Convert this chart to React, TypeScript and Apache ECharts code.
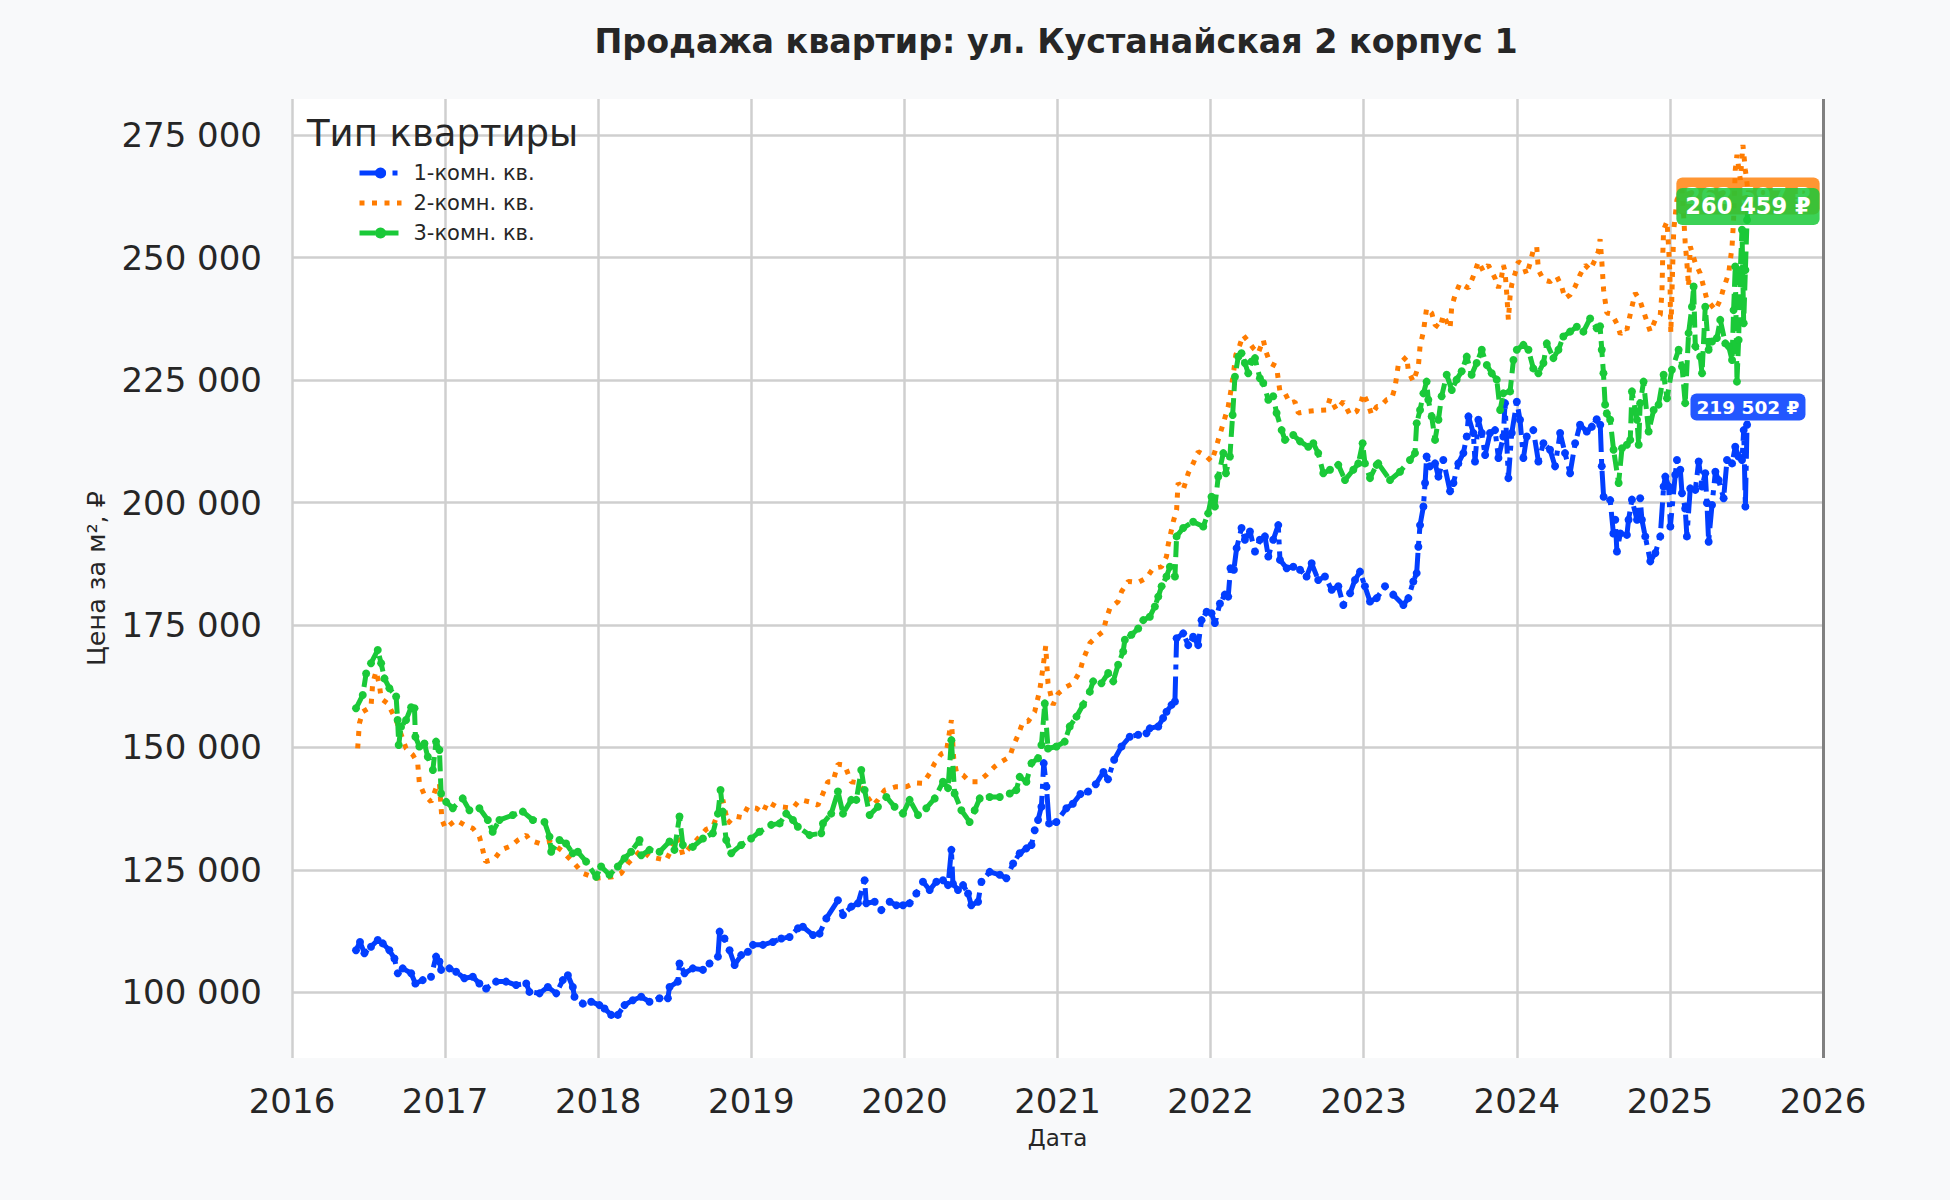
import React, { useEffect, useRef } from 'react';
import * as echarts from 'echarts';

const chartTitle = 'Продажа квартир: ул. Кустанайская 2 корпус 1';
const legendTitle = 'Тип квартиры';
const seriesNames = ['1-комн. кв.', '2-комн. кв.', '3-комн. кв.'];
const colors = ['#023eff', '#ff7c00', '#1ac938'];
const boxColors = ['rgba(2,62,255,0.87)', 'rgba(255,124,0,0.8)', 'rgba(26,201,56,0.85)'];
const priceTicks = [100000, 125000, 150000, 175000, 200000, 225000, 250000, 275000];

// [год, цена за м²]
const oneRoom: [number, number][] = [
  [2016.418, 108600], [2016.444, 110300], [2016.473, 108000], [2016.516, 109300], [2016.56, 110700],
  [2016.593, 110000], [2016.636, 108600], [2016.669, 106900], [2016.691, 103900], [2016.723, 104900],
  [2016.778, 103900], [2016.806, 101800], [2016.854, 102500], [2016.908, 103200], [2016.941, 107300],
  [2016.963, 106300], [2016.974, 104600], [2017.028, 104900], [2017.072, 104200], [2017.126, 102900],
  [2017.181, 103200], [2017.224, 101800], [2017.268, 100800], [2017.333, 102200], [2017.398, 102200],
  [2017.464, 101500], [2017.53, 101800], [2017.551, 100100], [2017.617, 99800], [2017.671, 101100],
  [2017.726, 99800], [2017.769, 102500], [2017.802, 103500], [2017.834, 101100], [2017.845, 99100],
  [2017.9, 97700], [2017.954, 98100], [2018.008, 97400], [2018.041, 96700], [2018.085, 95400],
  [2018.128, 95400], [2018.172, 97400], [2018.226, 98400], [2018.281, 99100], [2018.335, 98100],
  [2018.401, 98800], [2018.455, 98800], [2018.466, 101100], [2018.52, 102200], [2018.531, 105900],
  [2018.564, 103900], [2018.618, 104900], [2018.684, 104600], [2018.727, 105900], [2018.782, 107300],
  [2018.793, 112400], [2018.825, 111000], [2018.858, 108600], [2018.891, 105600], [2018.934, 107600],
  [2018.978, 108300], [2019.011, 109700], [2019.076, 109700], [2019.141, 110300], [2019.196, 111000],
  [2019.25, 111300], [2019.305, 113100], [2019.337, 113400], [2019.403, 111700], [2019.446, 112000],
  [2019.49, 115100], [2019.566, 118800], [2019.599, 115800], [2019.653, 117500], [2019.697, 118200],
  [2019.74, 122900], [2019.751, 118200], [2019.806, 118500], [2019.849, 116800], [2019.904, 118500],
  [2019.947, 117800], [2019.991, 117800], [2020.034, 118200], [2020.078, 120200], [2020.121, 122600],
  [2020.165, 120900], [2020.209, 122600], [2020.252, 122900], [2020.285, 121900], [2020.307, 129100],
  [2020.317, 122200], [2020.35, 120900], [2020.383, 121900], [2020.416, 120200], [2020.437, 117800],
  [2020.481, 118500], [2020.503, 122600], [2020.557, 124600], [2020.623, 124000], [2020.666, 123300],
  [2020.71, 126300], [2020.753, 128400], [2020.797, 129400], [2020.83, 130100], [2020.851, 133100],
  [2020.873, 135200], [2020.895, 137900], [2020.91, 146800], [2020.928, 142000], [2020.945, 134500],
  [2020.993, 134800], [2021.058, 137600], [2021.1, 138500], [2021.15, 140500], [2021.2, 141000],
  [2021.25, 142500], [2021.3, 145000], [2021.33, 143500], [2021.37, 147500], [2021.418, 150200],
  [2021.472, 152200], [2021.527, 152600], [2021.581, 152900], [2021.603, 153900], [2021.658, 154300],
  [2021.69, 156000], [2021.712, 157300], [2021.745, 158700], [2021.767, 159400], [2021.778, 172300],
  [2021.821, 173300], [2021.854, 170900], [2021.886, 172600], [2021.919, 170900], [2021.941, 176000],
  [2021.974, 177700], [2022.006, 177400], [2022.028, 175400], [2022.061, 179400], [2022.093, 181200],
  [2022.115, 180800], [2022.13, 186600], [2022.152, 186300], [2022.17, 190700], [2022.202, 194800],
  [2022.224, 192400], [2022.257, 194100], [2022.29, 190000], [2022.322, 192400], [2022.355, 193100],
  [2022.377, 189000], [2022.409, 192400], [2022.442, 195400], [2022.453, 188300], [2022.497, 186600],
  [2022.54, 186900], [2022.584, 186300], [2022.627, 184900], [2022.66, 187600], [2022.703, 184200],
  [2022.747, 184900], [2022.791, 182200], [2022.834, 182900], [2022.867, 179100], [2022.911, 181500],
  [2022.943, 184200], [2022.976, 185900], [2023.008, 182900], [2023.041, 179800], [2023.085, 180500],
  [2023.139, 182900], [2023.193, 181200], [2023.259, 179100], [2023.292, 180500], [2023.324, 183900],
  [2023.346, 185600], [2023.357, 191000], [2023.368, 195400], [2023.39, 199200], [2023.401, 204000],
  [2023.411, 209400], [2023.433, 207400], [2023.466, 208000], [2023.488, 205300], [2023.52, 208700],
  [2023.564, 202300], [2023.586, 204000], [2023.618, 208000], [2023.651, 210100], [2023.673, 213500],
  [2023.684, 217600], [2023.716, 214200], [2023.727, 208400], [2023.749, 216900], [2023.771, 214200],
  [2023.793, 209700], [2023.825, 214200], [2023.858, 214800], [2023.88, 209100], [2023.912, 213500],
  [2023.923, 220300], [2023.945, 205000], [2023.967, 214200], [2024.0, 220600], [2024.021, 216900],
  [2024.043, 209100], [2024.065, 213500], [2024.108, 214800], [2024.141, 208400], [2024.174, 212100],
  [2024.217, 210800], [2024.25, 207400], [2024.283, 214200], [2024.315, 210100], [2024.348, 206000],
  [2024.381, 212100], [2024.413, 215900], [2024.457, 214500], [2024.49, 215500], [2024.522, 217000],
  [2024.545, 215900], [2024.555, 207400], [2024.567, 201200], [2024.61, 200500], [2024.631, 193700],
  [2024.643, 196500], [2024.654, 190000], [2024.676, 193700], [2024.719, 193400], [2024.73, 196500],
  [2024.752, 200600], [2024.785, 196500], [2024.806, 200900], [2024.817, 196500], [2024.839, 193100],
  [2024.872, 188000], [2024.905, 189700], [2024.937, 193100], [2024.959, 203300], [2024.97, 205300],
  [2024.992, 203300], [2025.003, 195100], [2025.035, 205700], [2025.046, 208700], [2025.068, 206700],
  [2025.079, 201900], [2025.1, 198800], [2025.111, 193100], [2025.133, 202900], [2025.166, 202600],
  [2025.188, 208400], [2025.21, 203300], [2025.231, 206000], [2025.242, 199900], [2025.253, 192000],
  [2025.275, 199500], [2025.297, 206300], [2025.318, 204600], [2025.351, 200900], [2025.373, 208700],
  [2025.406, 208000], [2025.427, 211400], [2025.449, 209400], [2025.471, 208700], [2025.482, 214800],
  [2025.493, 199200], [2025.504, 215900], [2025.51, 219502],
];

const twoRoom: [number, number][] = [
  [2016.429, 149800], [2016.44, 154900], [2016.462, 157300], [2016.516, 158300], [2016.527, 163100],
  [2016.549, 165500], [2016.571, 162800], [2016.582, 160000], [2016.625, 159000], [2016.68, 155600],
  [2016.745, 149800], [2016.789, 148500], [2016.821, 146800], [2016.832, 142700], [2016.865, 140300],
  [2016.908, 138900], [2016.941, 141700], [2016.963, 142700], [2016.974, 137600], [2016.98, 135200],
  [2017.002, 133500], [2017.072, 135200], [2017.126, 134200], [2017.181, 133500], [2017.224, 131800],
  [2017.246, 129100], [2017.264, 126700], [2017.322, 127200], [2017.366, 129100], [2017.431, 129900],
  [2017.475, 131100], [2017.53, 132100], [2017.551, 131100], [2017.617, 130400], [2017.682, 130800],
  [2017.76, 129000], [2017.845, 126300], [2017.9, 124300], [2017.987, 123300], [2018.096, 123600],
  [2018.15, 124300], [2018.194, 126300], [2018.281, 129100], [2018.335, 127700], [2018.444, 127000],
  [2018.52, 131800], [2018.553, 128000], [2018.706, 133300], [2018.749, 133800], [2018.814, 139300],
  [2018.847, 134500], [2018.891, 136000], [2018.941, 135700], [2018.978, 137900], [2019.032, 137600],
  [2019.076, 136700], [2019.108, 138900], [2019.159, 138000], [2019.272, 137600], [2019.305, 138900],
  [2019.326, 139300], [2019.381, 138900], [2019.435, 138200], [2019.468, 140600], [2019.5, 143000],
  [2019.533, 143000], [2019.555, 145400], [2019.566, 146600], [2019.61, 146400], [2019.631, 144700],
  [2019.653, 143000], [2019.697, 142800], [2019.751, 140300], [2019.795, 138200], [2019.827, 139300],
  [2019.871, 141300], [2019.947, 142000], [2020.013, 142000], [2020.067, 142800], [2020.121, 142700],
  [2020.165, 144700], [2020.198, 146800], [2020.241, 148700], [2020.274, 149100], [2020.307, 155600],
  [2020.322, 147800], [2020.339, 145100], [2020.383, 144400], [2020.426, 143000], [2020.481, 143000],
  [2020.535, 144400], [2020.59, 146100], [2020.633, 147100], [2020.688, 148100], [2020.71, 150200],
  [2020.742, 152500], [2020.775, 155300], [2020.808, 155300], [2020.851, 157300], [2020.884, 161700],
  [2020.906, 166500], [2020.923, 170700], [2020.938, 163100], [2020.971, 158700], [2021.004, 161000],
  [2021.058, 162400], [2021.102, 163100], [2021.146, 165500], [2021.167, 167900], [2021.211, 171300],
  [2021.244, 172300], [2021.298, 173700], [2021.32, 176400], [2021.342, 178400], [2021.396, 179800],
  [2021.418, 181800], [2021.462, 183900], [2021.527, 183700], [2021.581, 184600], [2021.625, 186600],
  [2021.68, 186900], [2021.712, 189000], [2021.723, 191400], [2021.756, 196100], [2021.778, 198500],
  [2021.782, 200900], [2021.788, 204000], [2021.821, 202600], [2021.854, 206000], [2021.886, 208000],
  [2021.919, 210400], [2021.963, 209700], [2022.006, 208400], [2022.028, 210400], [2022.05, 212800],
  [2022.083, 216200], [2022.115, 219600], [2022.137, 223700], [2022.152, 227100], [2022.165, 230200],
  [2022.191, 232200], [2022.213, 234200], [2022.246, 232900], [2022.279, 231500], [2022.311, 230500],
  [2022.344, 233200], [2022.362, 230800], [2022.388, 228500], [2022.431, 227800], [2022.442, 225100],
  [2022.453, 222700], [2022.486, 222300], [2022.518, 220300], [2022.551, 220600], [2022.573, 218300],
  [2022.627, 218600], [2022.693, 218800], [2022.758, 218900], [2022.78, 221300], [2022.823, 218900],
  [2022.867, 220600], [2022.911, 217900], [2022.954, 218600], [2022.987, 221000], [2022.998, 222300],
  [2023.03, 220000], [2023.052, 217900], [2023.085, 219600], [2023.106, 219600], [2023.15, 221000],
  [2023.183, 221300], [2023.204, 223400], [2023.226, 228100], [2023.281, 229800], [2023.292, 226800],
  [2023.324, 224700], [2023.357, 227800], [2023.368, 231900], [2023.39, 234900], [2023.411, 239700],
  [2023.444, 238700], [2023.466, 236300], [2023.498, 235600], [2023.52, 238300], [2023.564, 235600],
  [2023.575, 240000], [2023.597, 242400], [2023.629, 244800], [2023.684, 243800], [2023.716, 246200],
  [2023.749, 249200], [2023.782, 247200], [2023.814, 248500], [2023.858, 245800], [2023.88, 243800],
  [2023.901, 246200], [2023.912, 248500], [2023.923, 247200], [2023.934, 242800], [2023.945, 237300],
  [2023.956, 242100], [2023.967, 244500], [2023.989, 246800], [2024.01, 249200], [2024.043, 248500],
  [2024.065, 246500], [2024.087, 248900], [2024.108, 251600], [2024.13, 252300], [2024.141, 247500],
  [2024.174, 245500], [2024.217, 245100], [2024.261, 246200], [2024.293, 244100], [2024.315, 241700],
  [2024.348, 242400], [2024.381, 244100], [2024.413, 246500], [2024.446, 248500], [2024.479, 247500],
  [2024.512, 249600], [2024.533, 251300], [2024.544, 253800], [2024.556, 248900], [2024.567, 243400],
  [2024.578, 241000], [2024.588, 238700], [2024.621, 238500], [2024.654, 236500], [2024.676, 234400],
  [2024.708, 235600], [2024.719, 235300], [2024.752, 240000], [2024.774, 242800], [2024.806, 241100],
  [2024.839, 238000], [2024.872, 234900], [2024.905, 237300], [2024.937, 238300], [2024.948, 242800],
  [2024.953, 250200], [2024.959, 255700], [2024.981, 257400], [2024.992, 251900], [2025.0, 246800],
  [2025.003, 240000], [2025.006, 234600], [2025.025, 255700], [2025.046, 261800], [2025.079, 263900],
  [2025.09, 258400], [2025.1, 253000], [2025.111, 248900], [2025.122, 244100], [2025.133, 252300],
  [2025.166, 248900], [2025.198, 246800], [2025.22, 244100], [2025.242, 241400], [2025.297, 239300],
  [2025.329, 241400], [2025.351, 243800], [2025.384, 246800], [2025.406, 252300], [2025.416, 257700],
  [2025.427, 267900], [2025.438, 271000], [2025.46, 265900], [2025.477, 273000], [2025.493, 267900],
  [2025.504, 265200], [2025.51, 262597],
];

const threeRoom: [number, number][] = [
  [2016.418, 158000], [2016.462, 160700], [2016.484, 165100], [2016.516, 167200], [2016.56, 169900],
  [2016.582, 167200], [2016.604, 164100], [2016.636, 162100], [2016.68, 160400], [2016.69, 155600],
  [2016.697, 150500], [2016.712, 154200], [2016.745, 155600], [2016.778, 158200], [2016.8, 158000],
  [2016.806, 152200], [2016.832, 150200], [2016.865, 150800], [2016.887, 148100], [2016.92, 145400],
  [2016.941, 151200], [2016.963, 149500], [2016.974, 140600], [2017.007, 138900], [2017.05, 137600],
  [2017.115, 139600], [2017.159, 137200], [2017.224, 137600], [2017.279, 135200], [2017.311, 132800],
  [2017.355, 135200], [2017.442, 136200], [2017.508, 136900], [2017.573, 135200], [2017.649, 134800],
  [2017.682, 131800], [2017.693, 128700], [2017.747, 131100], [2017.79, 130400], [2017.834, 128400],
  [2017.867, 128700], [2017.921, 126700], [2017.987, 123600], [2018.019, 125700], [2018.074, 124000],
  [2018.128, 125700], [2018.172, 127400], [2018.215, 128700], [2018.27, 131100], [2018.281, 128000],
  [2018.335, 129100], [2018.401, 128700], [2018.466, 130800], [2018.498, 129100], [2018.531, 135900],
  [2018.553, 130100], [2018.618, 129700], [2018.684, 131400], [2018.749, 132500], [2018.782, 136500],
  [2018.799, 141300], [2018.814, 136900], [2018.836, 131100], [2018.869, 128400], [2018.934, 130100],
  [2018.999, 131400], [2019.054, 132800], [2019.13, 134200], [2019.185, 134500], [2019.228, 136500],
  [2019.272, 135200], [2019.304, 133800], [2019.381, 132100], [2019.457, 132500], [2019.468, 134500],
  [2019.522, 136500], [2019.566, 141000], [2019.599, 136500], [2019.653, 139300], [2019.686, 139300],
  [2019.718, 145400], [2019.74, 141300], [2019.773, 136200], [2019.827, 137900], [2019.882, 139900],
  [2019.936, 137900], [2019.991, 136500], [2020.034, 139300], [2020.089, 136200], [2020.143, 137600],
  [2020.198, 139600], [2020.252, 143000], [2020.285, 141700], [2020.307, 151500], [2020.328, 140600],
  [2020.372, 137200], [2020.426, 134800], [2020.459, 137200], [2020.492, 139600], [2020.557, 139900],
  [2020.623, 139900], [2020.688, 140600], [2020.731, 141300], [2020.753, 144000], [2020.797, 143000],
  [2020.83, 146800], [2020.873, 147800], [2020.895, 150500], [2020.917, 159000], [2020.938, 149800],
  [2020.993, 150200], [2021.047, 151200], [2021.08, 154300], [2021.124, 156300], [2021.167, 158700],
  [2021.211, 161400], [2021.233, 163500], [2021.287, 163100], [2021.331, 165200], [2021.364, 163500],
  [2021.396, 166900], [2021.429, 169600], [2021.44, 172000], [2021.483, 173000], [2021.527, 174300],
  [2021.56, 176000], [2021.603, 176700], [2021.636, 178800], [2021.658, 180800], [2021.68, 182900],
  [2021.712, 184900], [2021.734, 186900], [2021.767, 184900], [2021.778, 193100], [2021.821, 194800],
  [2021.886, 196100], [2021.952, 195100], [2021.984, 197800], [2022.006, 201200], [2022.028, 199200],
  [2022.05, 205300], [2022.083, 210100], [2022.1, 206000], [2022.126, 209400], [2022.144, 217900],
  [2022.159, 225700], [2022.181, 229800], [2022.202, 230500], [2022.224, 228500], [2022.246, 226400],
  [2022.268, 228800], [2022.29, 229500], [2022.322, 225400], [2022.344, 224400], [2022.377, 221000],
  [2022.409, 221700], [2022.431, 218300], [2022.464, 214800], [2022.486, 212800], [2022.54, 213800],
  [2022.584, 212500], [2022.638, 211400], [2022.671, 212100], [2022.703, 210100], [2022.736, 206000],
  [2022.78, 206700], [2022.834, 207700], [2022.878, 204600], [2022.932, 206700], [2022.965, 208000],
  [2022.993, 212100], [2023.008, 208000], [2023.041, 205000], [2023.085, 207700], [2023.095, 208000],
  [2023.172, 204600], [2023.237, 206300], [2023.302, 208700], [2023.335, 210100], [2023.346, 216200],
  [2023.368, 218900], [2023.39, 222300], [2023.411, 224700], [2023.422, 221000], [2023.444, 217600],
  [2023.466, 212800], [2023.488, 216900], [2023.509, 221700], [2023.542, 226100], [2023.575, 223000],
  [2023.607, 225100], [2023.64, 226800], [2023.673, 229800], [2023.705, 226100], [2023.738, 228500],
  [2023.771, 231200], [2023.804, 228100], [2023.836, 226400], [2023.869, 225100], [2023.891, 218900],
  [2023.912, 222300], [2023.956, 222700], [2023.978, 229100], [2024.0, 231200], [2024.043, 232200],
  [2024.076, 231200], [2024.108, 227400], [2024.141, 226400], [2024.174, 228500], [2024.196, 232500],
  [2024.239, 229500], [2024.272, 231200], [2024.304, 233900], [2024.348, 234900], [2024.392, 235900],
  [2024.435, 234900], [2024.479, 237600], [2024.522, 235600], [2024.544, 236000], [2024.555, 231200],
  [2024.566, 226400], [2024.577, 220000], [2024.588, 218200], [2024.61, 216900], [2024.632, 210800],
  [2024.665, 204000], [2024.687, 211100], [2024.719, 211800], [2024.741, 212800], [2024.752, 222700],
  [2024.785, 216900], [2024.796, 211800], [2024.806, 220300], [2024.828, 224700], [2024.861, 214500],
  [2024.894, 218900], [2024.926, 220000], [2024.959, 226100], [2024.981, 221300], [2025.013, 227100],
  [2025.057, 231200], [2025.079, 227800], [2025.1, 220300], [2025.122, 234600], [2025.144, 240000],
  [2025.155, 244100], [2025.166, 231900], [2025.198, 229800], [2025.21, 226400], [2025.231, 240000],
  [2025.253, 231200], [2025.275, 232900], [2025.307, 233600], [2025.329, 237300], [2025.362, 232500],
  [2025.384, 231900], [2025.406, 229100], [2025.416, 239300], [2025.427, 248200], [2025.438, 224700],
  [2025.449, 233200], [2025.46, 247500], [2025.471, 255700], [2025.482, 236600], [2025.493, 247500],
  [2025.504, 257700], [2025.51, 260459],
];

const FONT = 'DejaVu Sans';
const TEXT = '#262626';

const fmt = (v: number) => String(Math.round(v)).replace(/\B(?=(\d{3})+(?!\d))/g, ' ');

const App: React.FC = () => {
  const chartRef = useRef<HTMLDivElement>(null);

  useEffect(() => {
    const chart = echarts.init(chartRef.current!, undefined, { renderer: 'svg' });

    const allData = [oneRoom, twoRoom, threeRoom];
    const lineTypes: any[] = [[26, 7, 5, 7], [5, 7.5], [16, 7]];
    const labelSizes = [18.5, 22.5, 22.5];
    const labelPads = [[4, 6], [7, 9], [7, 9]];

    const series = allData.map((data, i) => {
      const last = data[data.length - 1];
      return {
        name: seriesNames[i],
        type: 'line',
        data,
        showSymbol: i !== 1,
        showAllSymbol: true,
        symbol: i === 1 ? 'none' : 'circle',
        symbolSize: 8,
        itemStyle: { color: colors[i] },
        lineStyle: { color: colors[i], width: 5, type: lineTypes[i], cap: 'butt' },
        z: 2 + i,
        markPoint: {
          symbol: 'circle',
          symbolSize: 1,
          itemStyle: { color: 'rgba(0,0,0,0)' },
          silent: true,
          data: [{ coord: last, value: last[1] }],
          label: {
            show: true,
            position: 'inside',
            formatter: (p: any) => fmt(p.value) + ' ₽',
            color: '#fff',
            fontFamily: FONT,
            fontWeight: 'bold',
            fontSize: labelSizes[i],
            backgroundColor: boxColors[i],
            borderRadius: 6,
            padding: labelPads[i],
          },
        },
        ...(i === 0
          ? {
              markLine: {
                silent: true,
                symbol: ['none', 'none'],
                label: { show: false },
                lineStyle: { color: '#808080', width: 3, type: 'solid' },
                data: [{ xAxis: 2026 }],
              },
            }
          : {}),
      };
    });

    const option = {
      animation: false,
      backgroundColor: '#f8f9fa',
      textStyle: { fontFamily: FONT },
      title: [
        {
          text: chartTitle,
          left: 1051,
          top: 20,
          textAlign: 'center',
          textStyle: { fontFamily: FONT, fontSize: 33.3, fontWeight: 'bold', color: TEXT },
        },
        {
          text: legendTitle,
          left: 307,
          top: 115,
          padding: 0,
          textStyle: { fontFamily: FONT, fontSize: 37, fontWeight: 'normal', color: TEXT },
        },
      ],
      legend: {
        orient: 'vertical',
        left: 357,
        top: 162,
        itemWidth: 42,
        itemHeight: 14,
        itemGap: 8,
        padding: 0,
        lineStyle: { width: 5 },
        data: [
          { name: seriesNames[0] },
          { name: seriesNames[1], itemStyle: { opacity: 0 } },
          { name: seriesNames[2] },
        ],
        textStyle: { fontFamily: FONT, fontSize: 21, color: TEXT, lineHeight: 22, padding: [0, 0, 0, 7] },
      },
      grid: {
        left: 292,
        right: 127,
        top: 99,
        bottom: 142,
        show: true,
        backgroundColor: '#ffffff',
        borderWidth: 0,
      },
      xAxis: {
        type: 'value',
        min: 2016,
        max: 2026,
        interval: 1,
        name: 'Дата',
        nameLocation: 'middle',
        nameGap: 68,
        nameTextStyle: { fontFamily: FONT, fontSize: 23, color: TEXT },
        axisLine: { show: false },
        axisTick: { show: false },
        axisLabel: {
          margin: 26,
          fontFamily: FONT,
          fontSize: 34,
          color: TEXT,
          formatter: (v: number) => String(v),
        },
        splitLine: { show: true, lineStyle: { color: '#cfcfcf', width: 2.5 } },
      },
      yAxis: {
        type: 'value',
        min: 86600,
        max: 282400,
        name: 'Цена за м², ₽',
        nameLocation: 'middle',
        nameGap: 183,
        nameTextStyle: { fontFamily: FONT, fontSize: 25.5, color: TEXT },
        axisLine: { show: false },
        axisTick: { show: false, customValues: priceTicks },
        axisLabel: {
          margin: 30,
          fontFamily: FONT,
          fontSize: 34,
          color: TEXT,
          customValues: priceTicks,
          formatter: (v: number) => fmt(v),
        },
        splitLine: { show: true, lineStyle: { color: '#cfcfcf', width: 2.5 } },
      },
      series,
    };

    chart.setOption(option);

    return () => {
      chart.dispose();
    };
  }, []);

  return (
    <div
      ref={chartRef}
      style={{ position: 'absolute', left: 0, top: 0, width: '1950px', height: '1200px' }}
    />
  );
};

export default App;
